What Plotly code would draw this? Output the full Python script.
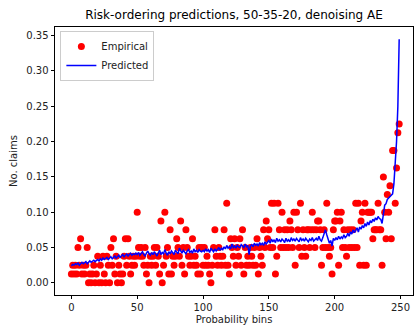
import plotly.graph_objects as go

# Probability bins 0..249
bins = list(range(250))

# Observed claim frequency per bin
empirical = [
    0.0125, 0.025, 0.0125, 0.025, 0.0125, 0.05, 0.025, 0.0625, 0.0125, 0.025,
    0.0125, 0.025, 0.05, 0.0, 0.0125, 0.0, 0.0125, 0.025, 0.0, 0.0125,
    0.0375, 0.0, 0.025, 0.0, 0.0375, 0.0125, 0.0, 0.0375, 0.025, 0.0,
    0.05, 0.025, 0.0625, 0.0125, 0.0375, 0.0, 0.025, 0.0125, 0.0, 0.0125,
    0.0375, 0.0625, 0.025, 0.0625, 0.0375, 0.0125, 0.025, 0.0375, 0.025, 0.0375,
    0.1, 0.05, 0.0375, 0.05, 0.0375, 0.025, 0.05, 0.0125, 0.025, 0.0,
    0.0375, 0.025, 0.0375, 0.05, 0.025, 0.05, 0.0375, 0.0125, 0.0875, 0.0,
    0.025, 0.1, 0.0375, 0.05, 0.0125, 0.075, 0.0125, 0.0375, 0.025, 0.0375,
    0.0625, 0.05, 0.0375, 0.0875, 0.025, 0.05, 0.0125, 0.075, 0.05, 0.0375,
    0.025, 0.0375, 0.0625, 0.025, 0.0375, 0.025, 0.0125, 0.05, 0.0125, 0.05,
    0.025, 0.05, 0.025, 0.0375, 0.025, 0.0125, 0.0, 0.025, 0.05, 0.075,
    0.0375, 0.025, 0.05, 0.0375, 0.025, 0.0375, 0.075, 0.025, 0.1125, 0.025,
    0.0125, 0.0625, 0.05, 0.0375, 0.0625, 0.025, 0.05, 0.0375, 0.0625, 0.025,
    0.075, 0.0125, 0.05, 0.025, 0.0375, 0.025, 0.05, 0.0375, 0.025, 0.05,
    0.025, 0.0625, 0.0125, 0.05, 0.0375, 0.025, 0.075, 0.05, 0.0875, 0.0625,
    0.075, 0.05, 0.1125, 0.05, 0.1125, 0.0125, 0.0375, 0.1125, 0.075, 0.05,
    0.1, 0.05, 0.075, 0.05, 0.075, 0.05, 0.0875, 0.075, 0.05, 0.1,
    0.025, 0.1, 0.075, 0.05, 0.1125, 0.0375, 0.075, 0.05, 0.0375, 0.075,
    0.075, 0.05, 0.075, 0.1, 0.075, 0.05, 0.075, 0.0875, 0.0875, 0.075,
    0.025, 0.05, 0.075, 0.05, 0.1125, 0.05, 0.0375, 0.05, 0.0125, 0.075,
    0.0875, 0.0875, 0.1, 0.025, 0.0875, 0.1, 0.05, 0.075, 0.05, 0.0375,
    0.075, 0.05, 0.075, 0.05, 0.075, 0.05, 0.1125, 0.05, 0.1125, 0.025,
    0.0875, 0.1, 0.025, 0.1125, 0.025, 0.1, 0.1, 0.1, 0.1, 0.0625,
    0.075, 0.075, 0.075, 0.1125, 0.075, 0.075, 0.025, 0.15, 0.1, 0.0625,
    0.125, 0.1, 0.1375, 0.0625, 0.1875, 0.1875, 0.1125, 0.1625, 0.2125, 0.225,
]

# Model-predicted claim frequency per bin
predicted = [
    0.024, 0.026, 0.025, 0.027, 0.026, 0.028, 0.025, 0.027, 0.029, 0.027,
    0.028, 0.030, 0.027, 0.029, 0.031, 0.029, 0.030, 0.032, 0.030, 0.031,
    0.033, 0.031, 0.034, 0.032, 0.035, 0.033, 0.034, 0.036, 0.033, 0.035,
    0.037, 0.034, 0.036, 0.038, 0.035, 0.037, 0.039, 0.036, 0.038, 0.040,
    0.037, 0.039, 0.041, 0.038, 0.040, 0.042, 0.039, 0.041, 0.040, 0.042,
    0.040, 0.043, 0.039, 0.041, 0.044, 0.040, 0.038, 0.042, 0.045, 0.041,
    0.039, 0.043, 0.040, 0.044, 0.041, 0.038, 0.042, 0.046, 0.040, 0.043,
    0.041, 0.047, 0.042, 0.039, 0.044, 0.041, 0.045, 0.042, 0.040, 0.046,
    0.043, 0.041, 0.049, 0.044, 0.042, 0.046, 0.043, 0.041, 0.045, 0.047,
    0.043, 0.045, 0.042, 0.048, 0.044, 0.046, 0.043, 0.047, 0.045, 0.044,
    0.046, 0.044, 0.048, 0.045, 0.047, 0.043, 0.049, 0.046, 0.044, 0.048,
    0.045, 0.047, 0.050, 0.046, 0.049, 0.047, 0.051, 0.048, 0.053, 0.049,
    0.051, 0.048, 0.055, 0.050, 0.052, 0.049, 0.053, 0.051, 0.050, 0.054,
    0.052, 0.050, 0.055, 0.051, 0.053, 0.040, 0.052, 0.054, 0.051, 0.056,
    0.053, 0.055, 0.052, 0.057, 0.054, 0.056, 0.053, 0.058, 0.055, 0.057,
    0.060, 0.056, 0.062, 0.058, 0.061, 0.057, 0.063, 0.059, 0.061, 0.058,
    0.062, 0.060, 0.057, 0.063, 0.059, 0.061, 0.058, 0.064, 0.060, 0.062,
    0.059, 0.063, 0.061, 0.058, 0.064, 0.060, 0.062, 0.059, 0.063, 0.061,
    0.058, 0.062, 0.060, 0.064, 0.059, 0.061, 0.063, 0.060, 0.066, 0.061,
    0.059, 0.064, 0.070, 0.075, 0.068, 0.062, 0.056, 0.060, 0.052, 0.063,
    0.060, 0.064, 0.061, 0.066, 0.062, 0.065, 0.063, 0.068, 0.064, 0.066,
    0.070, 0.066, 0.072, 0.069, 0.075, 0.071, 0.074, 0.078, 0.072, 0.079,
    0.076, 0.081, 0.078, 0.084, 0.080, 0.086, 0.082, 0.088, 0.085, 0.090,
    0.087, 0.092, 0.089, 0.094, 0.091, 0.090, 0.084, 0.098, 0.110, 0.112,
    0.118, 0.120, 0.122, 0.124, 0.126, 0.140, 0.165, 0.200, 0.250, 0.345,
]

x_ticks = [0, 50, 100, 150, 200, 250]
y_ticks = [0.00, 0.05, 0.10, 0.15, 0.20, 0.25, 0.30, 0.35]

FONT = "DejaVu Sans, Arial, sans-serif"

fig = go.Figure()
fig.add_trace(go.Scatter(
    x=bins, y=empirical, mode="markers", name="Empirical",
    marker=dict(color="#ff0000", size=7, line=dict(width=0)),
))
fig.add_trace(go.Scatter(
    x=bins, y=predicted, mode="lines", name="Predicted",
    line=dict(color="#0000ff", width=1.5),
))

axis_common = dict(
    showgrid=False, zeroline=False, showline=True, mirror=True,
    linecolor="#000000", linewidth=0.8, ticks="outside", ticklen=3.5,
    tickwidth=0.8, tickcolor="#000000",
    tickfont=dict(family=FONT, size=10, color="#222222"),
)

fig.update_layout(
    width=414, height=331,
    margin=dict(l=55, r=1, t=27, b=36),
    paper_bgcolor="white", plot_bgcolor="white",
    title=dict(
        text="Risk-ordering predictions, 50-35-20, denoising AE",
        x=0.5, xref="paper", xanchor="center",
        y=1 - 15 / 331, yanchor="middle",
        font=dict(family=FONT, size=12, color="#000000"),
    ),
    xaxis=dict(
        range=[-12.45, 259.5], tickvals=x_ticks,
        title=dict(text="Probability bins", standoff=3,
                   font=dict(family=FONT, size=10, color="#222222")),
        **axis_common,
    ),
    yaxis=dict(
        range=[-0.01725, 0.36225], tickvals=y_ticks, tickformat=".2f",
        title=dict(text="No. claims", standoff=6,
                   font=dict(family=FONT, size=10, color="#222222")),
        **axis_common,
    ),
    legend=dict(
        x=0.015, y=0.985, xanchor="left", yanchor="top",
        bgcolor="rgba(255,255,255,0.8)", bordercolor="#cccccc", borderwidth=1,
        font=dict(family=FONT, size=10, color="#222222"),
        tracegroupgap=0, itemwidth=30,
    ),
    showlegend=True,
)

fig.write_html("out.html")
